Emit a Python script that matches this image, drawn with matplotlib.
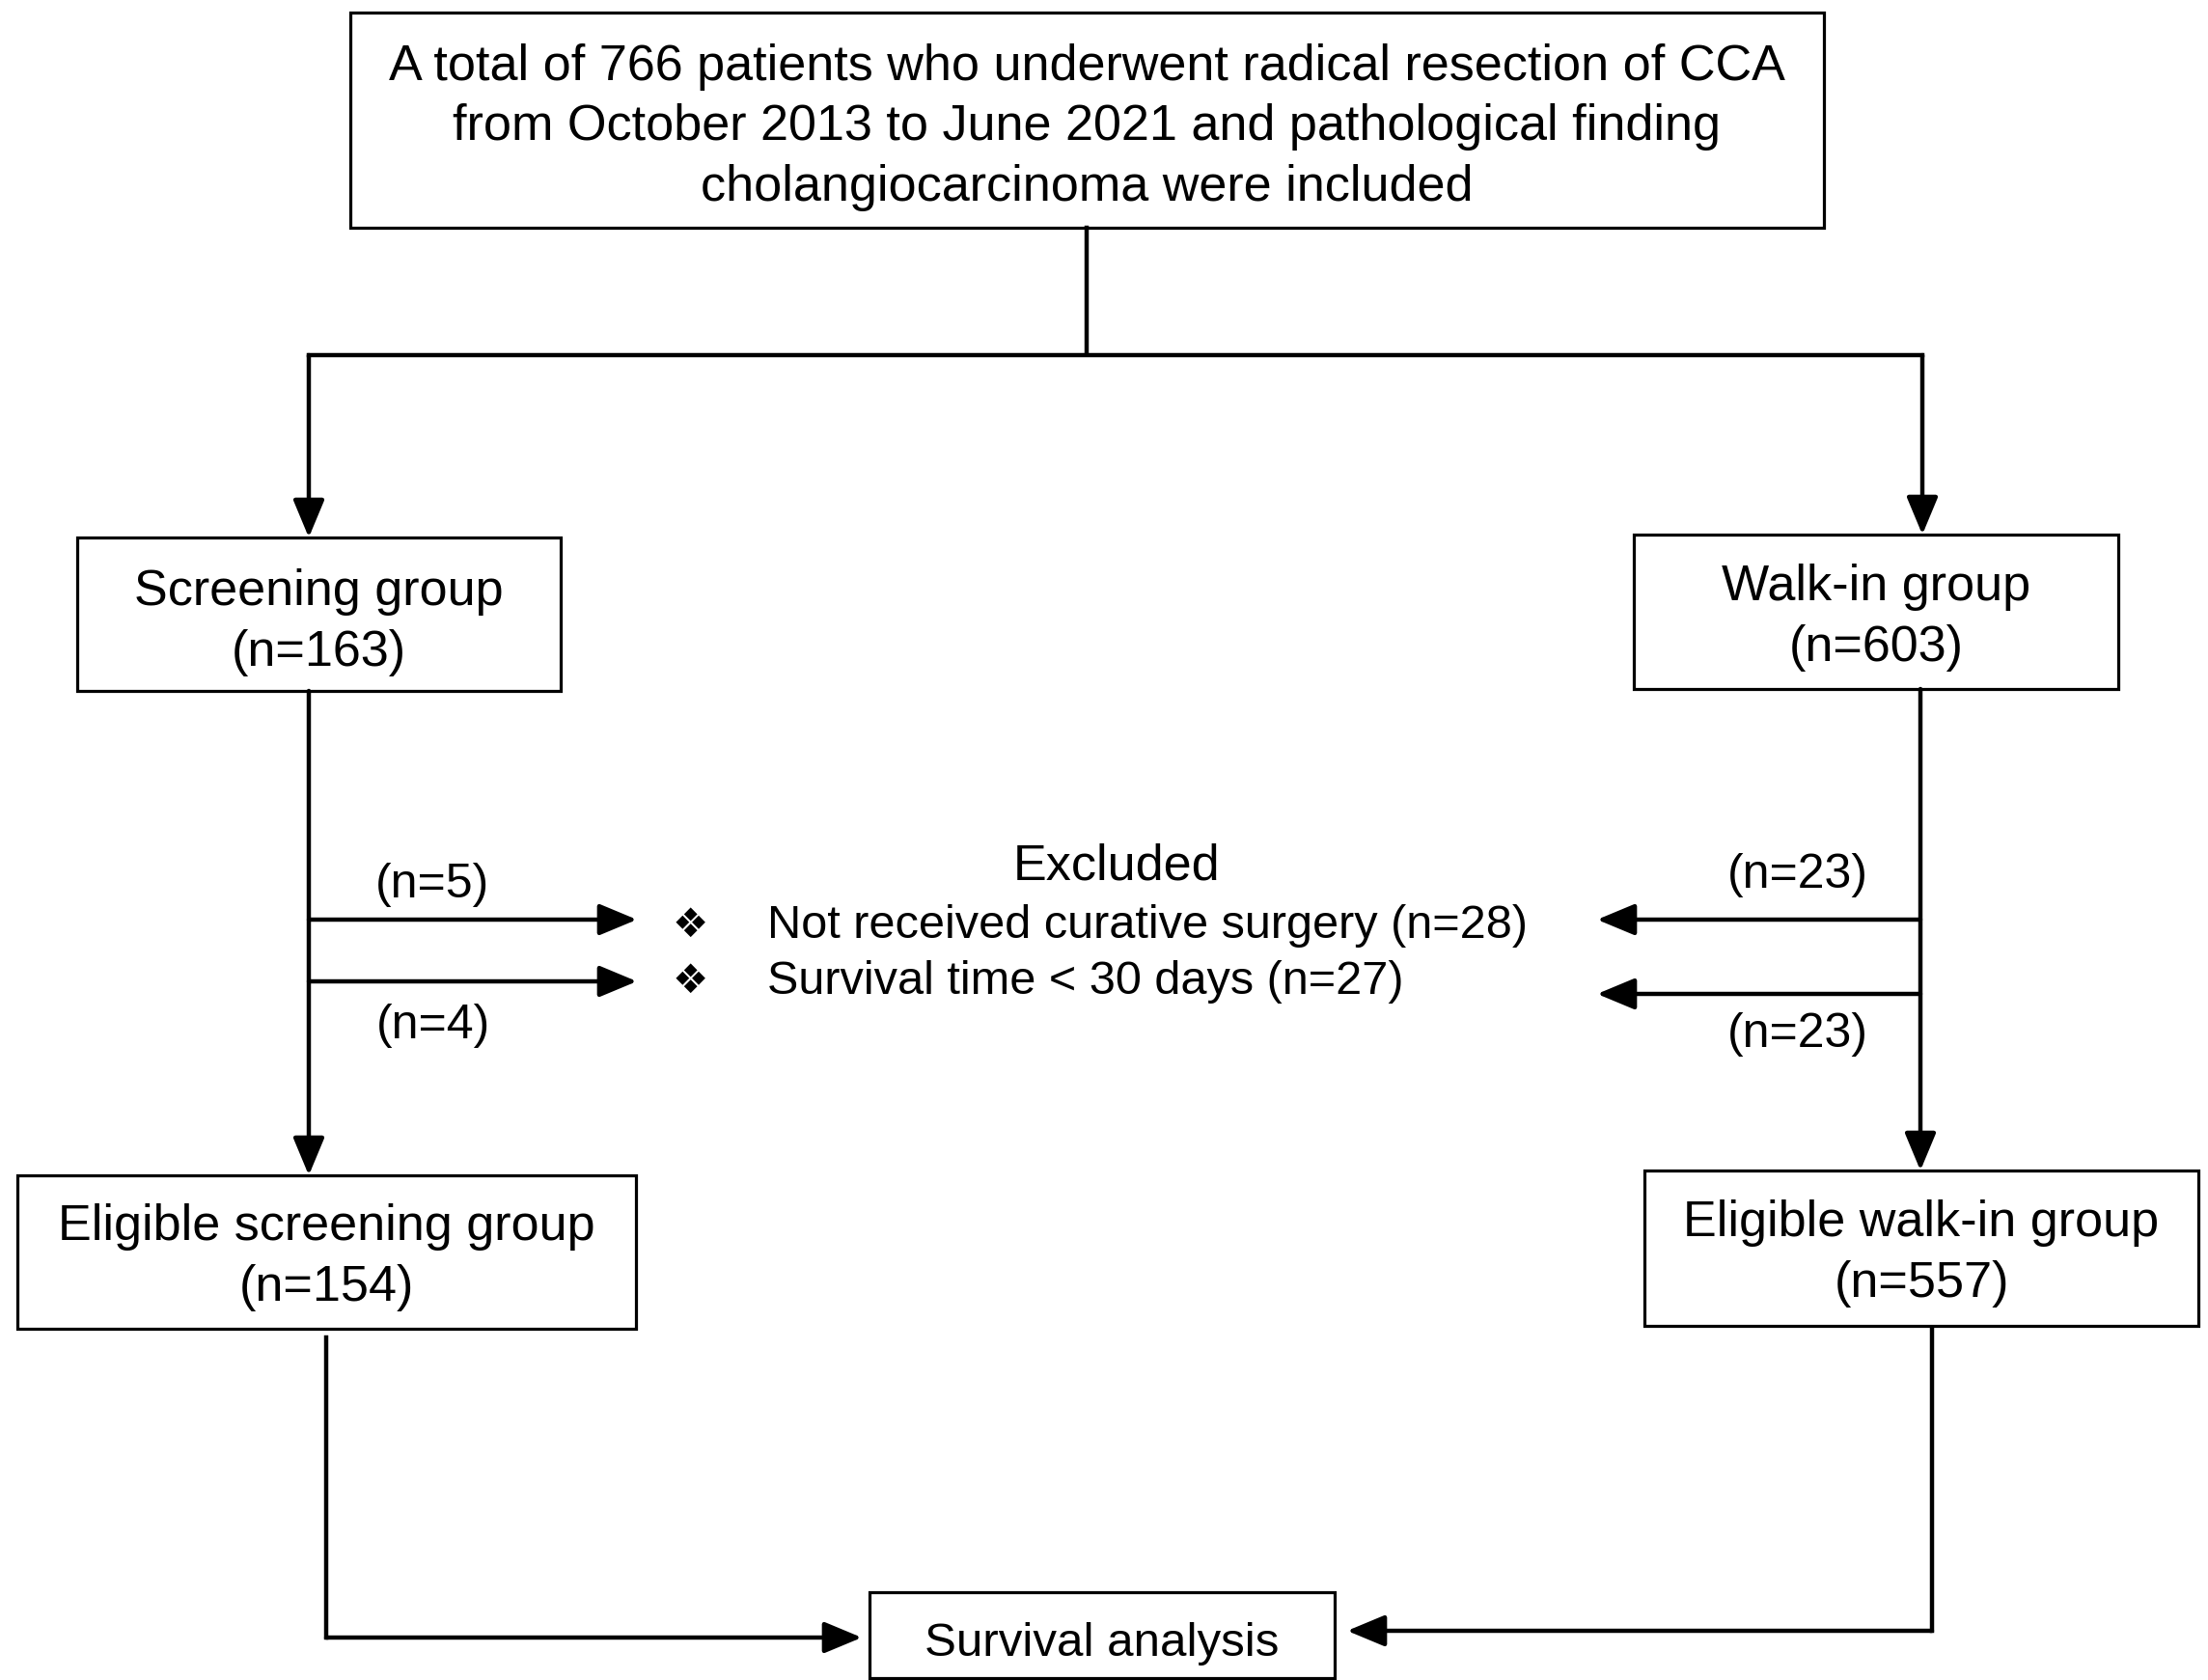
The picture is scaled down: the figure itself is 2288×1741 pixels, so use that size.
import matplotlib
matplotlib.use("Agg")
import matplotlib.pyplot as plt
from matplotlib.patches import Rectangle

# ---- content ----
top_text = ["A total of 766 patients who underwent radical resection of CCA",
            "from October 2013 to June 2021 and pathological finding",
            "cholangiocarcinoma were included"]
group_names = ["Screening group", "Walk-in group"]
group_n = [163, 603]
eligible_names = ["Eligible screening group", "Eligible walk-in group"]
eligible_n = [154, 557]
excl_title = "Excluded"
excl_reasons = ["Not received curative surgery", "Survival time < 30 days"]
excl_total = [28, 27]
excl_screen = [5, 4]
excl_walkin = [23, 23]
final_label = "Survival analysis"

FONT = ["Liberation Sans", "DejaVu Sans"]
FS = 37.5
LS = 1.36
BOX_LW = 2.3
LINE_LW = 3.2
C = "black"

fig = plt.figure(figsize=(22.88, 17.41), dpi=100)
ax = fig.add_axes([0, 0, 1, 1])
ax.set_xlim(0, 2288)
ax.set_ylim(1741, 0)
ax.axis("off")


def box(x0, y0, x1, y1):
    ax.add_patch(Rectangle((x0, y0), x1 - x0, y1 - y0, fill=False,
                           edgecolor=C, linewidth=BOX_LW, zorder=3))


def text(x, y, s, ha="center", fs=FS):
    ax.text(x, y, s, ha=ha, va="center", fontsize=fs, family=FONT,
            color=C, linespacing=LS, zorder=4)


def line(xs, ys):
    ax.plot(xs, ys, color=C, linewidth=LINE_LW, solid_capstyle="projecting",
            solid_joinstyle="miter", zorder=2)


def arrow(x0, y0, x1, y1):
    ax.annotate("", xy=(x1, y1), xytext=(x0, y0),
                arrowprops=dict(arrowstyle="-|>,head_length=1.2,head_width=0.5",
                                mutation_scale=20, color=C, lw=LINE_LW,
                                shrinkA=0, shrinkB=0), zorder=2)


# top box
box(363, 13, 1890, 236)
text(1126, 132, "\n".join(top_text))
line([1126, 1126], [236, 364])
line([320, 1992], [368, 368])
arrow(320, 368, 320, 557)
arrow(1992, 368, 1992, 554)

# group boxes
box(80, 557, 581, 716)
text(330, 645, f"{group_names[0]}\n(n={group_n[0]})")
box(1693, 554, 2195, 714)
text(1944, 640, f"{group_names[1]}\n(n={group_n[1]})")

# verticals to eligible
arrow(320, 716, 320, 1218)
arrow(1990, 714, 1990, 1213)

# exclusion arrows
arrow(320, 953, 660, 953)
arrow(320, 1017, 660, 1017)
text(448, 917, f"(n={excl_screen[0]})", fs=36)
text(449, 1063, f"(n={excl_screen[1]})", fs=36)
arrow(1990, 953, 1655, 953)
arrow(1990, 1030, 1655, 1030)
text(1863, 907, f"(n={excl_walkin[0]})", fs=36)
text(1863, 1072, f"(n={excl_walkin[1]})", fs=36)

# excluded text
text(1157, 898, excl_title)
for yy, r, n in zip([959, 1017], excl_reasons, excl_total):
    ax.text(715, yy, "\u2756", ha="center", va="center", fontsize=30,
            family=["DejaVu Sans"], color=C)
    text(795, yy, f"{r} (n={n})", ha="left", fs=35)

# eligible boxes
box(18, 1218, 659, 1377)
text(338, 1303, f"{eligible_names[0]}\n(n={eligible_n[0]})")
box(1704, 1213, 2278, 1374)
text(1991, 1299, f"{eligible_names[1]}\n(n={eligible_n[1]})")

# to survival analysis
line([338, 338], [1386, 1697])
arrow(338, 1697, 893, 1697)
line([2002, 2002], [1378, 1690])
arrow(2002, 1690, 1396, 1690)

box(901, 1650, 1383, 1739)
text(1142, 1704, final_label, fs=35.5)

fig.savefig("out.png", dpi=100, facecolor="white")
